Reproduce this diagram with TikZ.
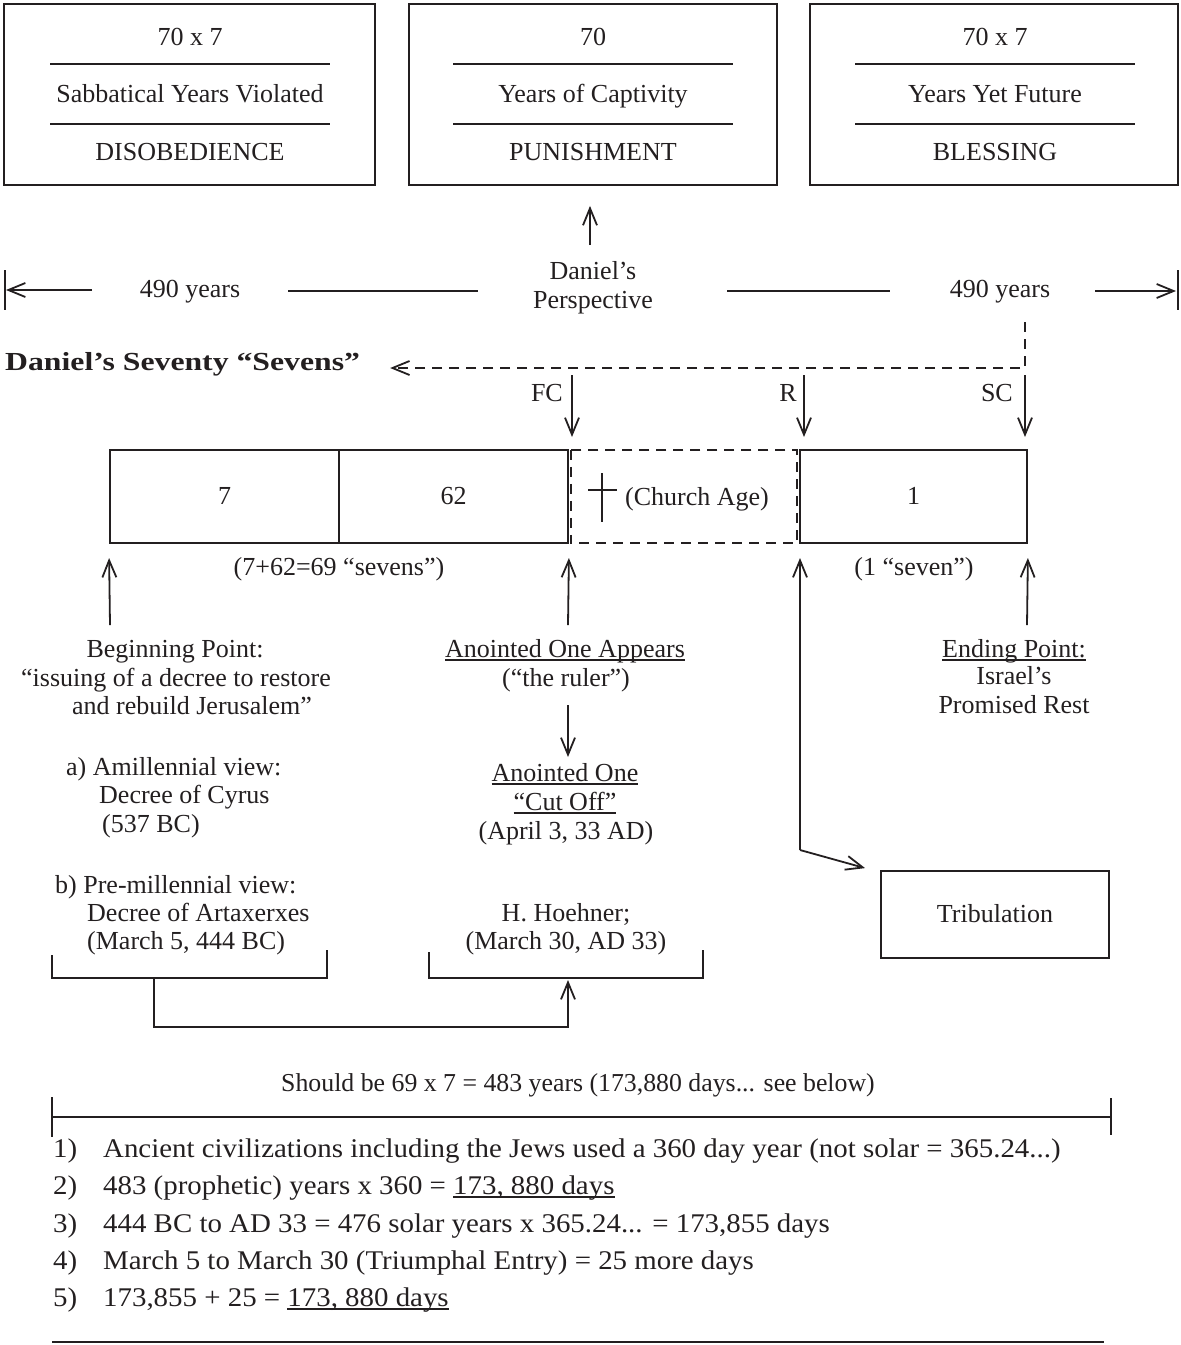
\documentclass[tikz,border=0pt]{standalone}
\usepackage{fontspec}
\setmainfont{Liberation Serif}
\newfontfamily\titlefont[FakeStretch=1.22]{Liberation Serif}
\newfontfamily\listfont[FakeStretch=1.07]{Liberation Serif}
\usetikzlibrary{arrows.meta,calc}
\definecolor{ink}{HTML}{231F20}
\newcommand{\mainsz}{\fontsize{26}{30}\selectfont}
\newcommand{\smallsz}{\fontsize{25.8}{30}\selectfont}
\newcommand{\listsz}{\fontsize{27}{32}\selectfont}
\newcommand{\ul}[1]{\setbox0\hbox{#1}\rlap{\color{ink}\rule[-3.5pt]{\wd0}{1.3pt}}\box0}
\begin{document}
\begin{tikzpicture}[x=1pt,y=-1pt,
  every node/.style={inner sep=0pt,text height=20pt,text depth=4pt,font=\mainsz,text=ink},
  ln/.style={draw=ink,line width=1.8pt},
  arr/.style={ln,-{Straight Barb[length=17pt,width=14pt,line width=1.8pt]}},
  dsh/.style={ln,dash pattern=on 10pt off 7pt},
  topbox/.style={draw=ink,line width=1.8pt,minimum width=#1,minimum height=181pt,text height=,text depth=},
  tbox/.style={draw=ink,line width=1.8pt,minimum width=#1,minimum height=93pt},
  lft/.style={anchor=west},
  item/.style={anchor=base west,font=\listsz\listfont,text height=,text depth=}
]
\useasboundingbox (0,0) rectangle (1181,1345);

% ---------- top boxes
\node[topbox=371pt] (b1) at (189.5,94.5) {};
\node[topbox=368pt] (b2) at (593,94.5) {};
\node[topbox=368pt] (b3) at (994,94.5) {};
\draw[ln] (50,64) -- (330,64) (50,124) -- (330,124);
\draw[ln] (453,64) -- (733,64) (453,124) -- (733,124);
\draw[ln] (855,64) -- (1135,64) (855,124) -- (1135,124);
\node (t1a) at (190,37) {70 x 7};
\node (t1b) at (190,94) {Sabbatical Years Violated};
\node (t1c) at (190,152) {DISOBEDIENCE};
\node (t2a) at (593,37) {70};
\node (t2b) at (593,94) {Years of Captivity};
\node (t2c) at (593,152) {PUNISHMENT};
\node (t3a) at (995,37) {70 x 7};
\node (t3b) at (995,94) {Years Yet Future};
\node (t3c) at (995,152) {BLESSING};

% ---------- perspective
\node (dp1) at (593,271) {Daniel’s};
\node (dp2) at (593,300) {Perspective};
\coordinate (pa) at (590,245);
\coordinate (pb) at ($(b2.south)+(-3,20)$);
\draw[arr] (pa) -- (pb);

% ---------- 490 years
\coordinate (lbar1) at (5,270); \coordinate (lbar2) at (5,310);
\coordinate (rbar1) at (1178,270); \coordinate (rbar2) at (1178,310);
\draw[ln] (lbar1) -- (lbar2);
\draw[ln] (rbar1) -- (rbar2);
\node (y1) at (190,289) {490 years};
\node (y2) at (1000,289) {490 years};
\coordinate (l1) at (92,290);
\draw[arr] (l1) -- (6,290);
\draw[ln] (288,291) -- (478,291);
\draw[ln] (727,291) -- (890,291);
\coordinate (r1) at (1095,291);
\draw[arr] (r1) -- (1176,291);

% ---------- title and dashed pointer
\node[anchor=west,font=\mainsz\titlefont\bfseries] (title) at (5,362) {Daniel’s Seventy “Sevens”};
\coordinate (d0) at (1025,322);
\coordinate (d1) at (1025,368);
\draw[dsh,-{Straight Barb[length=17pt,width=14pt,line width=1.8pt]}] (d0) -- (d1) -- ($(title.east)+(30,6)$);

% ---------- timeline
\node[tbox=229pt] (t7) at (224.5,496.5) {7};
\node[tbox=229pt] (t62) at (453.5,496.5) {62};
\node[tbox=227pt] (t1) at (913.5,496.5) {1};
\node[minimum width=226pt,minimum height=93pt] (tca) at (684,496.5) {};
\draw[dsh] (tca.north west) rectangle (tca.south east);
\draw[ln] (602,473) -- (602,522) (588,490) -- (617,490);
\node (church) at (697,497) {(Church Age)};

\node[anchor=east] (fc) at (563,393) {FC};
\node[anchor=east] (r) at (797,393) {R};
\node[anchor=east] (sc) at (1013,393) {SC};
\draw[arr] (572,375) -- (572,437);
\draw[arr] (804,375) -- (804,437);
\draw[arr] (1025,375) -- (1025,437);

\node (s69) at (339,567) {(7+62=69 “sevens”)};
\node (s1) at (914,567) {(1 “seven”)};

\draw[arr] (110,625) -- (t7.south west |- 0,558);
\draw[arr] (568,625) -- (t62.south east |- 0,558);
\draw[arr] (1027,625) -- (t1.south east |- 0,558);

% ---------- tribulation
\node[draw=ink,line width=1.8pt,minimum width=228pt,minimum height=87pt] (trib) at (995,914.5) {Tribulation};
\coordinate (tc) at (800,850);
\draw[arr] (tc) -- (800,558);
\draw[arr] (tc) -- ($(trib.north west)+(-15,-2)$);

% ---------- left texts
\node (bp1) at (175,649) {Beginning Point:};
\node (bp2) at (176,678) {“issuing of a decree to restore};
\node (bp3) at (192,706) {and rebuild Jerusalem”};
\node[lft] (a1) at (66,767) {a) Amillennial view:};
\node[lft] (a2) at (99,795) {Decree of Cyrus};
\node[lft] (a3) at (102,824) {(537 BC)};
\node[lft] (pb1) at (55,885) {b) Pre-millennial view:};
\node[lft] (pb2) at (87,913) {Decree of Artaxerxes};
\node[lft] (pb3) at (87,941) {(March 5, 444 BC)};

% ---------- middle texts
\node (ao1) at (565,649) {\ul{Anointed One Appears}};
\node (ao2) at (566,678) {(“the ruler”)};
\draw[arr] (568,705) -- (568,757);
\node (co1) at (565,773) {\ul{Anointed One}};
\node (co2) at (565,802) {\ul{“Cut Off”}};
\node (co3) at (566,831) {(April 3, 33 AD)};
\node (hh1) at (566,913) {H. Hoehner;};
\node (hh2) at (566,941) {(March 30, AD 33)};

% ---------- right texts
\node (ep1) at (1014,649) {\ul{Ending Point:}};
\node (ep2) at (1014,676) {Israel’s};
\node (ep3) at (1014,705) {Promised Rest};

% ---------- brackets
\draw[ln] (52,955) -- (52,978) -- (327,978) -- (327,950);
\draw[ln] (429,952) -- (429,978) -- (703,978) -- (703,950);
\coordinate (bk1) at (154,978);
\coordinate (bk2) at (568,980);
\draw[arr] (bk1) -- (154,1027) -- (568,1027) -- (bk2);

% ---------- bottom
\node[font=\smallsz] (should) at (578,1083) {Should be 69 x 7 = 483 years (173,880 days... see below)};
\draw[ln] (52,1117) -- (1111,1117);
\draw[ln] (52,1097) -- (52,1137);
\draw[ln] (1111,1098) -- (1111,1135);
\node[item] (i1) at (53,1157) {\makebox[50pt][l]{1)}Ancient civilizations including the Jews used a 360 day year (not solar = 365.24...)};
\node[item] (i2) at (53,1194) {\makebox[50pt][l]{2)}483 (prophetic) years x 360 = \ul{173, 880 days}};
\node[item] (i3) at (53,1232) {\makebox[50pt][l]{3)}444 BC to AD 33 = 476 solar years x 365.24... = 173,855 days};
\node[item] (i4) at (53,1269) {\makebox[50pt][l]{4)}March 5 to March 30 (Triumphal Entry) = 25 more days};
\node[item] (i5) at (53,1306) {\makebox[50pt][l]{5)}173,855 + 25 = \ul{173, 880 days}};
\draw[ln] (52,1342) -- (1104,1342);
\end{tikzpicture}
\end{document}
